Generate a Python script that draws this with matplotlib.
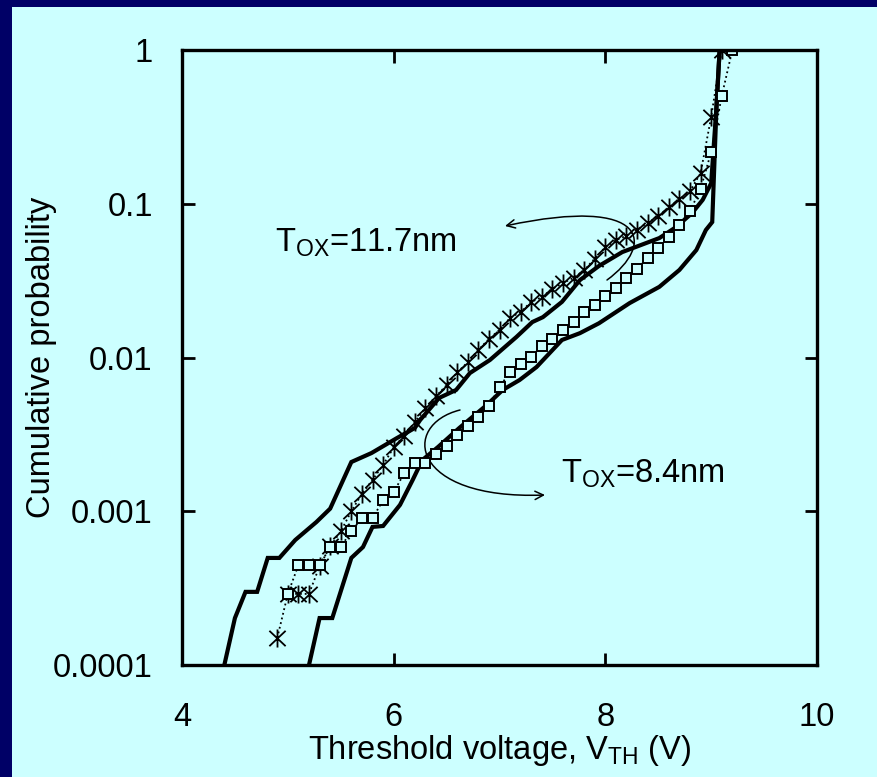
import matplotlib
matplotlib.use("Agg")
import matplotlib.pyplot as plt
from matplotlib.patches import Rectangle, FancyArrowPatch
from matplotlib.path import Path
from matplotlib.ticker import FixedLocator, FixedFormatter, NullLocator

plt.rcParams['font.family'] = ['Liberation Sans', 'DejaVu Sans']
plt.rcParams['mathtext.fontset'] = 'custom'
plt.rcParams['mathtext.rm'] = 'Liberation Sans'
plt.rcParams['mathtext.it'] = 'Liberation Sans'

BG = '#CCFFFF'
NAVY = '#000066'
FS = 23.5

# Measured points, Tox = 11.7 nm (asterisks)
vth_117 = [4.9, 5.0, 5.1, 5.2, 5.3, 5.4, 5.5, 5.6, 5.7, 5.8, 5.9, 6.0, 6.1, 6.2,
           6.3, 6.4, 6.5, 6.6, 6.7, 6.8, 6.9, 7.0, 7.1, 7.2, 7.3, 7.4, 7.5, 7.6,
           7.7, 7.8, 7.9, 8.0, 8.1, 8.2, 8.3, 8.4, 8.5, 8.6, 8.7, 8.8, 8.9, 9.0, 9.1]
prob_117 = [1.5e-4, 2.9e-4, 2.9e-4, 2.9e-4, 4.4e-4, 5.9e-4, 7.4e-4, 1.0e-3, 1.3e-3,
            1.6e-3, 2.0e-3, 2.6e-3, 3.1e-3, 3.8e-3, 4.7e-3, 5.6e-3, 6.6e-3, 8.0e-3,
            9.3e-3, 1.12e-2, 1.32e-2, 1.51e-2, 1.81e-2, 1.98e-2, 2.3e-2, 2.47e-2,
            2.8e-2, 3.05e-2, 3.3e-2, 3.7e-2, 4.4e-2, 5.2e-2, 5.8e-2, 6.2e-2, 6.8e-2,
            7.5e-2, 8.3e-2, 9.5e-2, 0.107, 0.121, 0.158, 0.367, 1.0]

# Measured points, Tox = 8.4 nm (squares)
vth_84 = [5.0, 5.1, 5.2, 5.3, 5.4, 5.5, 5.6, 5.7, 5.8, 5.9, 6.0, 6.1, 6.2, 6.3,
          6.4, 6.5, 6.6, 6.7, 6.8, 6.9, 7.0, 7.1, 7.2, 7.3, 7.4, 7.5, 7.6, 7.7,
          7.8, 7.9, 8.0, 8.1, 8.2, 8.3, 8.4, 8.5, 8.6, 8.7, 8.8, 8.9, 9.0, 9.1, 9.2]
prob_84 = [2.9e-4, 4.47e-4, 4.47e-4, 4.47e-4, 5.85e-4, 5.85e-4, 7.44e-4, 9.0e-4,
           9.0e-4, 1.18e-3, 1.33e-3, 1.77e-3, 2.06e-3, 2.06e-3, 2.36e-3, 2.66e-3,
           3.13e-3, 3.58e-3, 4.1e-3, 4.84e-3, 6.43e-3, 8.05e-3, 9.08e-3, 1.01e-2,
           1.19e-2, 1.32e-2, 1.51e-2, 1.70e-2, 1.98e-2, 2.19e-2, 2.51e-2, 2.83e-2,
           3.29e-2, 3.77e-2, 4.44e-2, 5.16e-2, 6.08e-2, 7.28e-2, 8.97e-2, 0.125,
           0.217, 0.502, 1.0]

# Solid curves (left = 11.7 nm, right = 8.4 nm)
vth_line_117 = [4.40, 4.50, 4.60, 4.71, 4.81, 4.92, 5.07, 5.27, 5.40, 5.60, 5.79,
                6.03, 6.20, 6.25, 6.43, 6.59, 6.72, 6.91, 7.16, 7.31, 7.41, 7.59,
                7.76, 7.94, 8.16, 8.51, 8.67, 8.82, 8.92, 9.00, 9.05, 9.08]
prob_line_117 = [1.0e-4, 2.02e-4, 2.99e-4, 2.99e-4, 4.97e-4, 4.97e-4, 6.5e-4,
                 8.51e-4, 1.04e-3, 2.09e-3, 2.39e-3, 2.99e-3, 3.48e-3, 3.92e-3,
                 5.46e-3, 6.15e-3, 7.92e-3, 9.64e-3, 1.36e-2, 1.70e-2, 1.83e-2,
                 2.30e-2, 3.19e-2, 3.94e-2, 4.85e-2, 5.98e-2, 7.06e-2, 8.71e-2,
                 0.106, 0.136, 0.426, 1.0]
vth_line_84 = [5.20, 5.30, 5.42, 5.60, 5.71, 5.80, 5.90, 6.06, 6.18, 6.27, 6.42,
               6.62, 6.88, 7.03, 7.19, 7.35, 7.59, 7.76, 7.94, 8.23, 8.51, 8.70,
               8.86, 8.95, 9.01, 9.05, 9.08]
prob_line_84 = [1.0e-4, 2.02e-4, 2.02e-4, 4.97e-4, 5.85e-4, 7.91e-4, 8.02e-4,
                1.10e-3, 1.60e-3, 2.15e-3, 2.62e-3, 3.48e-3, 4.91e-3, 6.15e-3,
                7.14e-3, 8.67e-3, 1.30e-2, 1.44e-2, 1.67e-2, 2.26e-2, 2.88e-2,
                3.71e-2, 5.0e-2, 6.75e-2, 7.6e-2, 0.426, 1.0]

y_ticks = [1e-4, 1e-3, 1e-2, 1e-1, 1]
y_labels = ['0.0001', '0.001', '0.01', '0.1', '1']
x_ticks = [4, 6, 8, 10]
x_labels = ['4', '6', '8', '10']

# asterisk marker: an X with a vertical bar through it
star = Path([(0, -1), (0, 1), (-0.9, -0.85), (0.9, 0.85), (-0.9, 0.85), (0.9, -0.85)],
            [Path.MOVETO, Path.LINETO] * 3)

fig = plt.figure(figsize=(8.78, 7.77), dpi=100)
fig.patch.set_facecolor(BG)
# navy frame on left and top edges
fig.patches.append(Rectangle((0, 0), 12 / 878, 1, transform=fig.transFigure,
                             facecolor=NAVY, edgecolor='none', zorder=0))
fig.patches.append(Rectangle((0, 1 - 7 / 777), 1, 7 / 777, transform=fig.transFigure,
                             facecolor=NAVY, edgecolor='none', zorder=0))

ax = fig.add_axes([182 / 878, 1 - 665 / 777, 635 / 878, 615 / 777])
ax.set_facecolor(BG)

ax.plot(vth_line_117, prob_line_117, color='black', lw=3, solid_joinstyle='miter')
ax.plot(vth_line_84, prob_line_84, color='black', lw=3, solid_joinstyle='miter')
ax.plot(vth_117, prob_117, color='black', ls=':', lw=1.3, marker=star,
        markersize=13, markeredgewidth=1.3)
ax.plot(vth_84, prob_84, color='black', ls=':', lw=1.3, marker='s',
        markersize=7, markerfacecolor=BG, markeredgecolor='black', markeredgewidth=1.4)

ax.set_yscale('log')
ax.set_xlim(4, 10)
ax.set_ylim(1e-4, 1)
ax.xaxis.set_major_locator(FixedLocator(x_ticks))
ax.xaxis.set_major_formatter(FixedFormatter(x_labels))
ax.yaxis.set_major_locator(FixedLocator(y_ticks))
ax.yaxis.set_major_formatter(FixedFormatter(y_labels))
ax.yaxis.set_minor_locator(NullLocator())
ax.xaxis.set_minor_locator(NullLocator())
ax.tick_params(axis='both', direction='in', length=9, width=2, labelsize=FS,
               top=True, right=True)
ax.tick_params(axis='x', pad=27)
ax.tick_params(axis='y', pad=21)
for s in ax.spines.values():
    s.set_linewidth(2.4)

ax.set_xlabel(r'Threshold voltage, V$_{\mathrm{TH}}$ (V)', fontsize=FS, labelpad=0)
ax.set_ylabel('Cumulative probability', fontsize=FS, labelpad=-3)

ax.text(0.146, 0.672, r'T$_{\mathrm{OX}}$=11.7nm', transform=ax.transAxes,
        fontsize=FS, ha='left', va='baseline')
ax.text(0.597, 0.296, r'T$_{\mathrm{OX}}$=8.4nm', transform=ax.transAxes,
        fontsize=FS, ha='left', va='baseline')


def fx(px):
    return (px - 182) / 635


def fy(py):
    return (665 - py) / 615


codes = [Path.MOVETO, Path.CURVE4, Path.CURVE4, Path.CURVE4]
arc1 = Path([(fx(607), fy(280)), (fx(655), fy(245)), (fx(650), fy(195)), (fx(505), fy(226))], codes)
arc2 = Path([(fx(460), fy(410)), (fx(400), fy(425)), (fx(410), fy(500)), (fx(545), fy(495))], codes)
for p in (arc1, arc2):
    ax.add_patch(FancyArrowPatch(path=p, transform=ax.transAxes, arrowstyle='->,head_length=6,head_width=3',
                                 color='black', lw=1.1))

fig.savefig('out.png', dpi=100, facecolor=BG)
